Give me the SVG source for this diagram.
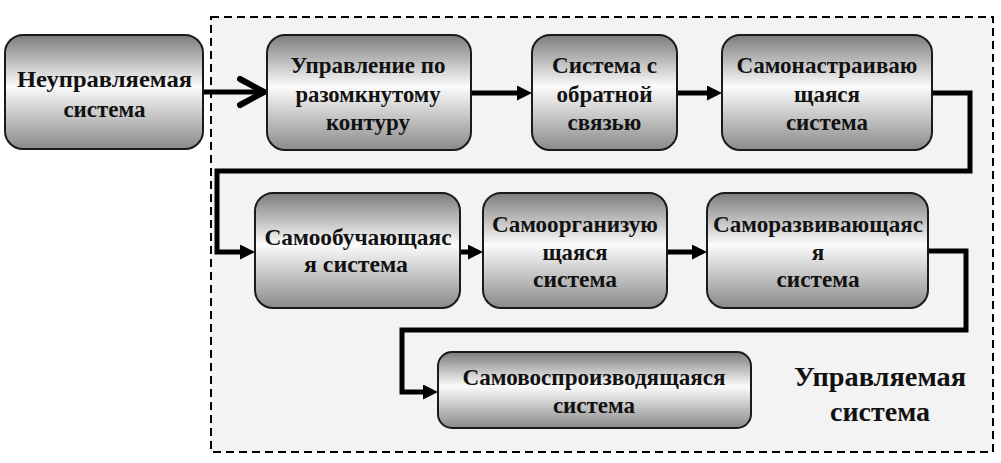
<svg xmlns="http://www.w3.org/2000/svg" width="1001" height="463" viewBox="0 0 1001 463">
<style>
.box{fill:url(#g);stroke:#1a1a1a;stroke-width:2}
.t{font-family:'Liberation Serif','DejaVu Serif',serif;font-weight:700;font-size:23px;fill:#111;text-anchor:middle}
.big{font-size:28px}
.c{fill:none;stroke:#000;stroke-width:5}
</style>
<defs>
<linearGradient id="g" x1="0" y1="0" x2="0" y2="1">
<stop offset="0" stop-color="#7c7c7c"/>
<stop offset="0.45" stop-color="#fbfbfb"/>
<stop offset="1" stop-color="#8a8a8a"/>
</linearGradient>
<marker id="a" markerUnits="userSpaceOnUse" markerWidth="16" markerHeight="16" refX="0" refY="7.5" orient="auto">
<path d="M0,0 L15,7.5 L0,15 z" fill="#000"/>
</marker>
</defs>
<rect x="0" y="0" width="1001" height="463" fill="#fff"/>
<rect id="managed" x="211" y="17" width="782" height="435" fill="#f3f3f3" stroke="#000" stroke-width="2" stroke-dasharray="8,5"/>
<g id="connectors">
<path class="c" d="M203,92 H263"/>
<path d="M240,79 L264,92 L240,105" fill="none" stroke="#000" stroke-width="6" stroke-linejoin="round" stroke-linecap="round"/>
<path class="c" d="M471,93 H517" marker-end="url(#a)"/>
<path class="c" d="M677,93 H707" marker-end="url(#a)"/>
<path class="c" d="M932,93 H970 V171 H217 V252 H240" marker-end="url(#a)"/>
<path class="c" d="M460,252 H468" marker-end="url(#a)"/>
<path class="c" d="M667,252 H692" marker-end="url(#a)"/>
<path class="c" d="M928,251 H966 V330 H402 V392 H423" marker-end="url(#a)"/>
</g>
<g font-family="Liberation Serif, DejaVu Serif, serif">
<g id="n1"><rect class="box" x="5" y="35" width="198" height="114" rx="18"/>
<text class="t" x="104.5" y="87" textLength="175" lengthAdjust="spacingAndGlyphs">Неуправляемая</text>
<text class="t" x="104.5" y="117">система</text></g>
<g id="n2"><rect class="box" x="267" y="35" width="204" height="115" rx="18"/>
<text class="t" x="368" y="73" textLength="155" lengthAdjust="spacingAndGlyphs">Управление по</text>
<text class="t" x="368" y="102" textLength="145" lengthAdjust="spacingAndGlyphs">разомкнутому</text>
<text class="t" x="368" y="130">контуру</text></g>
<g id="n3"><rect class="box" x="532" y="35" width="145" height="115" rx="18"/>
<text class="t" x="604.5" y="73" textLength="105" lengthAdjust="spacingAndGlyphs">Система с</text>
<text class="t" x="604.5" y="102">обратной</text>
<text class="t" x="604.5" y="130">связью</text></g>
<g id="n4"><rect class="box" x="722" y="35" width="210" height="115" rx="18"/>
<text class="t" x="827" y="73" textLength="181" lengthAdjust="spacingAndGlyphs">Самонастраиваю</text>
<text class="t" x="827" y="102">щаяся</text>
<text class="t" x="827" y="130">система</text></g>
<g id="n5"><rect class="box" x="255" y="193" width="205" height="115" rx="18"/>
<text class="t" x="358" y="245" textLength="187" lengthAdjust="spacingAndGlyphs">Самообучающаяс</text>
<text class="t" x="356" y="272" textLength="104" lengthAdjust="spacingAndGlyphs">я система</text></g>
<g id="n6"><rect class="box" x="483" y="193" width="184" height="115" rx="18"/>
<text class="t" x="575" y="232" textLength="166" lengthAdjust="spacingAndGlyphs">Самоорганизую</text>
<text class="t" x="575" y="260" textLength="65" lengthAdjust="spacingAndGlyphs">щаяся</text>
<text class="t" x="575" y="287" textLength="84" lengthAdjust="spacingAndGlyphs">система</text></g>
<g id="n7"><rect class="box" x="707" y="193" width="221" height="115" rx="18"/>
<text class="t" x="818" y="232" textLength="210" lengthAdjust="spacingAndGlyphs">Саморазвивающаяс</text>
<text class="t" x="818" y="260">я</text>
<text class="t" x="818" y="287" textLength="83" lengthAdjust="spacingAndGlyphs">система</text></g>
<g id="n8"><rect class="box" x="438" y="352" width="313" height="76" rx="14"/>
<text class="t" x="594" y="385" textLength="263" lengthAdjust="spacingAndGlyphs">Самовоспроизводящаяся</text>
<text class="t" x="594" y="413">система</text></g>
<g id="label">
<text class="t big" x="880" y="386" textLength="172" lengthAdjust="spacingAndGlyphs">Управляемая</text>
<text class="t big" x="880" y="421">система</text></g>
</g>
</svg>
